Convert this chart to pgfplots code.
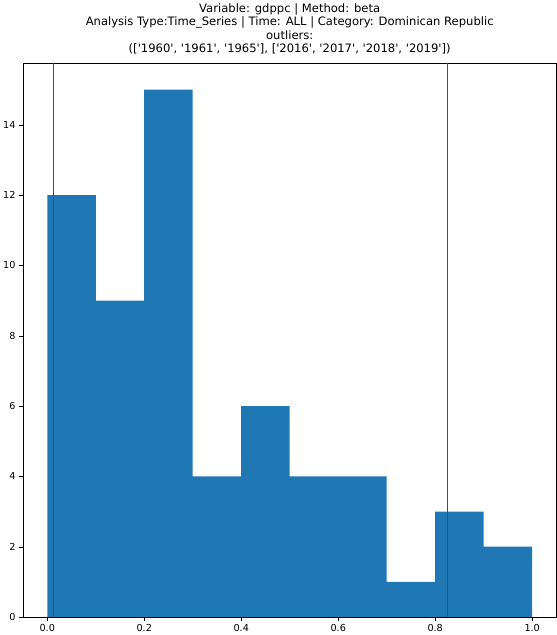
\documentclass[border=0pt]{standalone}
\usepackage{pgfplots}
\pgfplotsset{compat=1.18}
\usepackage{fontspec}
\setmainfont{DejaVu Sans}
\definecolor{mplblue}{HTML}{1F77B4}
\begin{document}
\begin{tikzpicture}
\begin{axis}[
  scale only axis, width=553pt, height=574pt,
  xmin=-0.05, xmax=1.05, ymin=0, ymax=15.75,
  xtick={0,0.2,0.4,0.6,0.8,1.0},
  xticklabels={0.0,0.2,0.4,0.6,0.8,1.0},
  ytick={0,2,4,6,8,10,12,14},
  tick label style={font=\fontsize{10}{12}\selectfont},
  /pgf/number format/assume math mode=true,
  tick align=outside, tick style={black},
  xtick pos=bottom, ytick pos=left,
  title style={align=center, font=\fontsize{12}{14}\selectfont},
  title={Variable: gdppc | Method: beta\\Analysis Type:Time\_Series | Time: ALL | Category: Dominican Republic\\outliers:\\([\textquotesingle1960\textquotesingle, \textquotesingle1961\textquotesingle, \textquotesingle1965\textquotesingle], [\textquotesingle2016\textquotesingle, \textquotesingle2017\textquotesingle, \textquotesingle2018\textquotesingle, \textquotesingle2019\textquotesingle])},
]
\addplot[ybar interval, fill=mplblue, draw=none] coordinates {
(0.0,12) (0.1,9) (0.2,15) (0.3,4) (0.4,6) (0.5,4) (0.6,4) (0.7,1) (0.8,3) (0.9,2) (1.0,2)};
\addplot[red, thick] coordinates {(0.013,0) (0.013,15.75)};
\addplot[red, thick] coordinates {(0.825,0) (0.825,15.75)};
\end{axis}
\end{tikzpicture}
\end{document}
